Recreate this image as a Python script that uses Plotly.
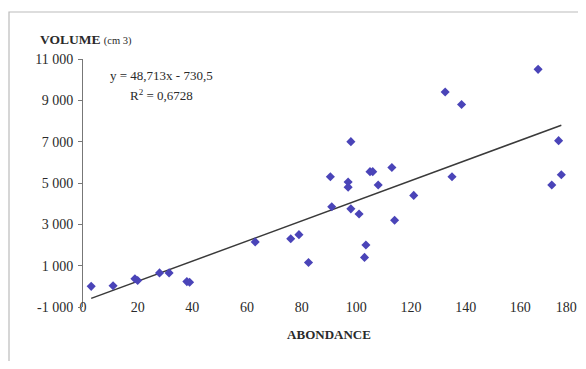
import plotly.graph_objects as go
import numpy as np

# Data
abondance = [3, 11, 19, 20, 28, 31.5, 38, 39, 63, 76, 79, 82.5, 90.5, 91, 97, 97,
             98, 98, 101, 103, 103.5, 105, 106, 108, 113, 114, 121, 132.5, 135,
             138.5, 166.5, 171.5, 174, 175]
volume = [0, 30, 370, 280, 650, 650, 230, 200, 2150, 2300, 2500, 1150, 5300, 3850,
          5050, 4800, 7000, 3750, 3500, 1400, 2000, 5550, 5550, 4900, 5750, 3200,
          4400, 9400, 5300, 8800, 10500, 4900, 7050, 5400]

slope = 48.713
intercept = -730.5
r2_text = "0,6728"

x_ticks = list(range(0, 181, 20))
x_tick_labels = [str(v) for v in x_ticks]
y_ticks = list(range(-1000, 11001, 2000))
y_tick_labels = ["-1 000", "1 000", "3 000", "5 000", "7 000", "9 000", "11 000"]

font_family = "Liberation Serif"
txt = "#2a2a2a"
axis_col = "#777777"

# page has an 8px body margin: figure is drawn at (8, 8)
OFF = 8
PX0, PX1 = 83 - OFF, 575 - OFF     # plot area x in figure coords
PY0, PY1 = 59 - OFF, 307 - OFF     # plot area y (top, bottom)
W, H = 586 - OFF, 369 - 2 * OFF


def px(x):
    return (x - OFF - PX0) / (PX1 - PX0)


def py(y):
    return (PY1 - (y - OFF)) / (PY1 - PY0)


# the last label sits at the window edge: pad it so it stays visible
shown_x_labels = list(x_tick_labels)
shown_x_labels[-1] = shown_x_labels[-1] + "\u00a0" * 5

xl = np.array([min(abondance), max(abondance)])
yl = slope * xl + intercept

fig = go.Figure()
fig.add_trace(go.Scatter(x=list(xl), y=list(yl), mode="lines",
                         line=dict(color="#3a3a3a", width=1.5),
                         hoverinfo="skip", showlegend=False))
fig.add_trace(go.Scatter(x=abondance, y=volume, mode="markers",
                         marker=dict(symbol="diamond", size=7, color="#4a44b8"),
                         showlegend=False))

fig.update_layout(
    width=W, height=H,
    margin=dict(l=PX0, r=W - PX1, t=PY0, b=H - PY1, pad=0),
    paper_bgcolor="white", plot_bgcolor="white",
    font=dict(family=font_family, color=txt, size=12),
    xaxis=dict(range=[0, 180], tickvals=x_ticks, ticktext=shown_x_labels,
               showline=False, ticks="", showgrid=False, zeroline=False,
               ticklabelstandoff=-10, automargin=False,
               ticklabeloverflow="allow",
               tickfont=dict(size=14, family=font_family, color=txt),
               title=dict(text="<b>ABONDANCE</b>", standoff=15,
                          font=dict(size=13, family=font_family, color=txt))),
    xaxis2=dict(range=[0, 180], overlaying="x", anchor="free",
                position=1000 / 12000, showline=True, linecolor=axis_col,
                linewidth=1, ticks="outside", ticklen=4, tickcolor=axis_col,
                tickvals=x_ticks, showticklabels=False, showgrid=False,
                zeroline=False, automargin=False),
    xaxis3=dict(range=[0, 180], overlaying="x", anchor="free",
                position=1000 / 12000, showline=False,
                ticks="inside", ticklen=4, tickcolor=axis_col,
                tickvals=x_ticks, showticklabels=False, showgrid=False,
                zeroline=False, automargin=False),
    yaxis=dict(range=[-1000, 11000], tickvals=y_ticks, ticktext=y_tick_labels,
               showline=True, linecolor=axis_col, linewidth=1,
               ticks="outside", ticklen=4, tickcolor=axis_col,
               showgrid=False, zeroline=False, automargin=False,
               ticklabelstandoff=2,
               tickfont=dict(size=14, family=font_family, color=txt)),
    yaxis2=dict(range=[-1000, 11000], overlaying="y", anchor="x", side="left",
                showline=False, ticks="inside", ticklen=4, tickcolor=axis_col,
                tickvals=y_ticks, showticklabels=False, showgrid=False,
                zeroline=False, automargin=False),
)

# outer chart-area frame
fig.add_shape(type="rect", xref="paper", yref="paper",
              x0=px(9), x1=1.3, y0=-0.5, y1=py(12),
              line=dict(color="#bbbbbb", width=1.2), fillcolor="rgba(0,0,0,0)",
              layer="below")

fig.add_annotation(xref="paper", yref="paper", x=px(38), y=py(40),
                   xanchor="left", yanchor="middle", showarrow=False,
                   text="<b>VOLUME</b> <span style='font-size:10.5px'>(cm 3)</span>",
                   font=dict(size=13.5, family=font_family, color=txt))
fig.add_annotation(xref="paper", yref="paper", x=px(161), y=py(75),
                   xanchor="center", yanchor="middle", showarrow=False,
                   text="y = 48,713x - 730,5",
                   font=dict(size=13, family=font_family, color=txt))
fig.add_annotation(xref="paper", yref="paper", x=px(161), y=py(95),
                   xanchor="center", yanchor="middle", showarrow=False,
                   text="R<sup>2</sup> = " + r2_text,
                   font=dict(size=13, family=font_family, color=txt))

fig.write_html("out.html")
